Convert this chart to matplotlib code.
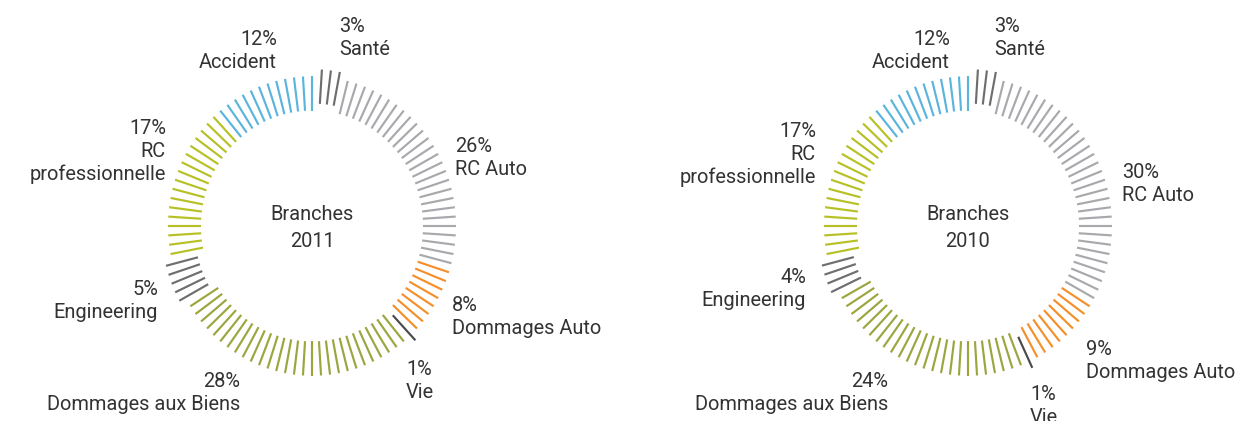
"""
Branches 2011 / 2010 - radial tick donut charts
"""

import numpy as np
import matplotlib
matplotlib.use("Agg")
import matplotlib.pyplot as plt
from matplotlib.collections import LineCollection


# ── Data ───────────────────────────────────────────────────────────────────────
categories = ["Santé", "RC Auto", "Dommages Auto", "Vie",
              "Dommages aux Biens", "Engineering", "RC\nprofessionnelle", "Accident"]
share_2011 = [3, 26, 8, 1, 28, 5, 17, 12]
share_2010 = [3, 30, 9, 1, 24, 4, 17, 12]
years = ["2011", "2010"]

# ── Style ──────────────────────────────────────────────────────────────────────
colors = ["#6d6e70", "#a7a9ac", "#f58f2a", "#4a4a4c",
          "#9ca53e", "#6d6e70", "#b7c125", "#5bb4dd"]
exploded = [True, False, False, True, False, True, False, False]
TEXT = "#333333"
FONT = ["Roboto", "DejaVu Sans"]
FS = 14.4

# ring geometry in pixels (slightly taller than wide, as in the reference)
R_IN, R_OUT, Y_STRETCH, PUSH = 111, 144, 1.04, 7
centers = [(312, 226), (968, 226)]

# label anchors: (x, first-line baseline, ha) per category, per chart
label_pos = [
    [(339, 32, "left"), (455, 152, "left"), (452, 311, "left"), (406, 375, "left"),
     (240, 387, "right"), (158, 295, "right"), (166, 134, "right"), (277, 45, "right")],
    [(994, 32, "left"), (1122, 178, "left"), (1086, 355, "left"), (1030, 400, "left"),
     (888, 387, "right"), (806, 283, "right"), (816, 137, "right"), (950, 45, "right")],
]
LINE_GAP = 23


def draw_ring(ax, shares, center, labels):
    cx, cy = center
    step = 360.0 / sum(shares)
    idx = 0
    for cat, n, col, exp, (lx, ly, ha) in zip(categories, shares, colors, exploded, labels):
        ang = np.radians((idx + 1 + np.arange(n)) * step)
        mid = np.radians((idx + 1 + (n - 1) / 2) * step)
        dx = PUSH * np.sin(mid) if exp else 0.0
        dy = -PUSH * np.cos(mid) if exp else 0.0
        segs = []
        for a in ang:
            x0 = cx + dx + R_IN * np.sin(a)
            y0 = cy + dy - R_IN * Y_STRETCH * np.cos(a)
            x1 = cx + dx + R_OUT * np.sin(a)
            y1 = cy + dy - R_OUT * Y_STRETCH * np.cos(a)
            segs.append([(x0, y0), (x1, y1)])
        ax.add_collection(LineCollection(segs, colors=col, linewidths=1.55,
                                         capstyle="butt"))
        idx += n

        lines = [f"{n}%"] + cat.split("\n")
        for k, line in enumerate(lines):
            ax.text(lx, ly + k * LINE_GAP, line, ha=ha, va="baseline",
                    fontsize=FS, color=TEXT, family=FONT)


fig = plt.figure(figsize=(12.39, 4.21), dpi=100)
ax = fig.add_axes([0, 0, 1, 1])
ax.set_xlim(0, 1239)
ax.set_ylim(421, 0)
ax.axis("off")

for shares, center, labels, year in zip([share_2011, share_2010], centers, label_pos, years):
    draw_ring(ax, shares, center, labels)
    ax.text(center[0], center[1] - 6, "Branches", ha="center", va="baseline",
            fontsize=FS, color=TEXT, family=FONT)
    ax.text(center[0], center[1] + 21, year, ha="center", va="baseline",
            fontsize=FS, color=TEXT, family=FONT)

fig.savefig("out.png", dpi=100, facecolor="white")
